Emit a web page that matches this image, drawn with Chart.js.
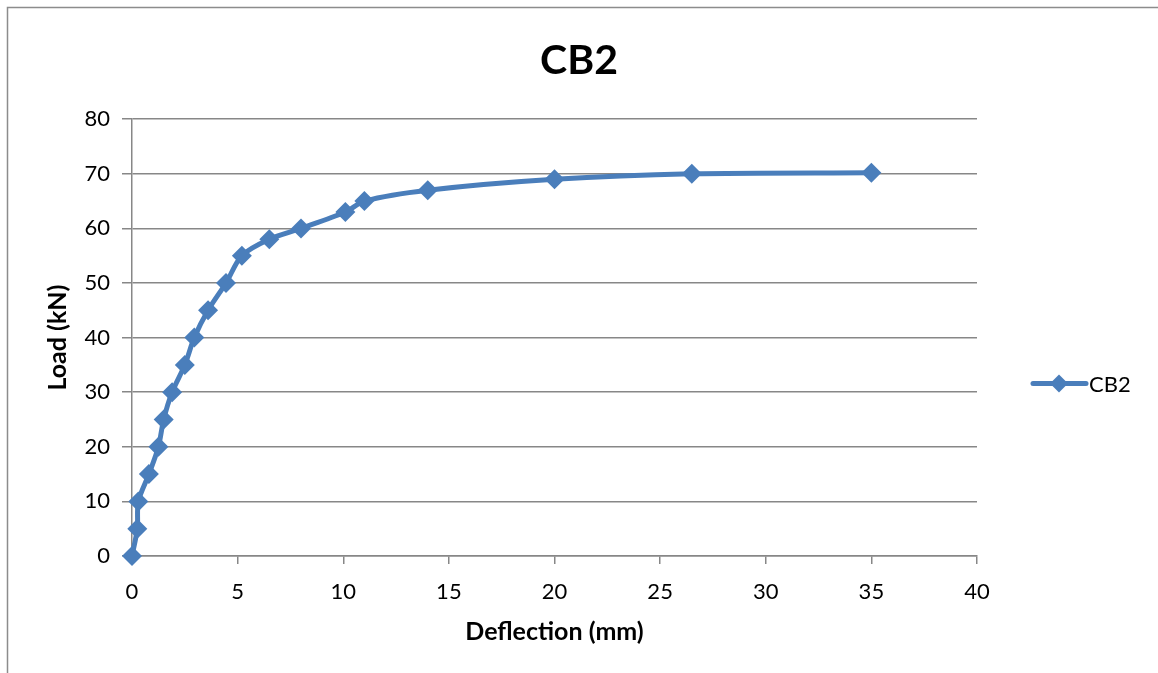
<!DOCTYPE html>
<html>
<head>
<meta charset="utf-8">
<script src="https://cdn.jsdelivr.net/npm/chart.js@4.4.0/dist/chart.umd.min.js"></script>
<style>
  html, body { margin: 0; padding: 0; background: #fff; }
  #wrap { position: relative; width: 1158px; height: 673px; }
</style>
</head>
<body>
<div id="wrap"><canvas id="chart" width="1158" height="673"></canvas></div>
<script>
// CB2 load-deflection readings
const deflection = [0, 0.25, 0.3, 0.8, 1.25, 1.5, 1.9, 2.5, 2.95, 3.6, 4.45, 5.2, 6.5, 8.0, 10.1, 11.0, 14.0, 20.0, 26.5, 35.0];
const load = [0, 5, 10, 15, 20, 25, 30, 35, 40, 45, 50, 55, 58, 60, 63, 65, 67, 69, 70, 70.2];
const seriesName = 'CB2';

const blue = '#4a7ebb';
const grey = '#878787';
const font = 'Lato, Calibri, "Liberation Sans", sans-serif';

// frame around the chart object, like the Excel chart border
const framePlugin = {
  id: 'frame',
  beforeDraw(chart) {
    const ctx = chart.ctx;
    ctx.save();
    ctx.strokeStyle = '#8c8c8c';
    ctx.lineWidth = 1.5;
    ctx.beginPath();
    ctx.moveTo(7.5, 673);
    ctx.lineTo(7.5, 7.5);
    ctx.lineTo(1158, 7.5);
    ctx.stroke();
    ctx.restore();
  }
};

// legend to the right: line + diamond + name
const sideLegend = {
  id: 'sideLegend',
  afterDraw(chart) {
    const ctx = chart.ctx;
    const y = (chart.chartArea.top + chart.chartArea.bottom) / 2 + 46;
    const x0 = 1033, x1 = 1086, xc = 1059;
    ctx.save();
    ctx.strokeStyle = blue;
    ctx.lineWidth = 5;
    ctx.lineCap = 'round';
    ctx.beginPath();
    ctx.moveTo(x0, y);
    ctx.lineTo(x1, y);
    ctx.stroke();
    ctx.fillStyle = blue;
    ctx.beginPath();
    ctx.moveTo(xc, y - 9);
    ctx.lineTo(xc + 9, y);
    ctx.lineTo(xc, y + 9);
    ctx.lineTo(xc - 9, y);
    ctx.closePath();
    ctx.fill();
    ctx.fillStyle = '#000';
    ctx.font = '22px ' + font;
    ctx.textBaseline = 'middle';
    ctx.fillText(seriesName, 1089, y + 1);
    ctx.restore();
  }
};

new Chart(document.getElementById('chart'), {
  type: 'line',
  data: {
    datasets: [{
      label: seriesName,
      data: deflection.map((d, i) => ({ x: d, y: load[i] })),
      borderColor: blue,
      backgroundColor: blue,
      borderWidth: 5,
      tension: 0.3,
      clip: false,
      pointStyle: 'rectRot',
      pointRadius: 10,
      pointHoverRadius: 10,
      pointBorderWidth: 0
    }]
  },
  options: {
    responsive: false,
    animation: false,
    layout: { padding: 0 },
    plugins: {
      legend: { display: false },
      tooltip: { enabled: false },
      title: {
        display: true,
        text: 'CB2',
        color: '#000',
        font: { family: font, size: 41, weight: 'bold' },
        padding: { top: 36, bottom: 34 }
      }
    },
    scales: {
      x: {
        type: 'linear',
        min: 0,
        max: 40,
        ticks: { stepSize: 5, color: '#000', font: { family: font, size: 22 }, padding: 15, maxRotation: 0 },
        grid: { drawOnChartArea: false, drawTicks: true, tickLength: 8, color: grey, lineWidth: 1.5 },
        border: { display: true, color: grey, width: 1.5 },
        title: {
          display: true,
          text: 'Deflection (mm)',
          color: '#000',
          font: { family: font, size: 25, weight: 'bold' },
          padding: { top: 0, bottom: 26 }
        },
        afterFit(scale) { scale.height = 117; }
      },
      y: {
        min: 0,
        max: 80,
        ticks: { stepSize: 10, color: '#000', font: { family: font, size: 22 }, padding: 12 },
        grid: { color: grey, lineWidth: 1.5, drawTicks: true, tickLength: 10 },
        border: { display: true, color: grey, width: 1.5 },
        title: {
          display: true,
          text: 'Load (kN)',
          color: '#000',
          font: { family: font, size: 25, weight: 'bold' },
          padding: { top: 43, bottom: 0 }
        },
        afterFit(scale) { scale.width = 132; }
      },
      // empty right-hand axis, only keeps room for the legend column
      legendSpace: {
        type: 'linear',
        position: 'right',
        display: true,
        ticks: { display: false },
        grid: { display: false, drawTicks: false },
        border: { display: false },
        afterFit(scale) { scale.width = 181; }
      }
    }
  },
  plugins: [framePlugin, sideLegend]
});
</script>
</body>
</html>
